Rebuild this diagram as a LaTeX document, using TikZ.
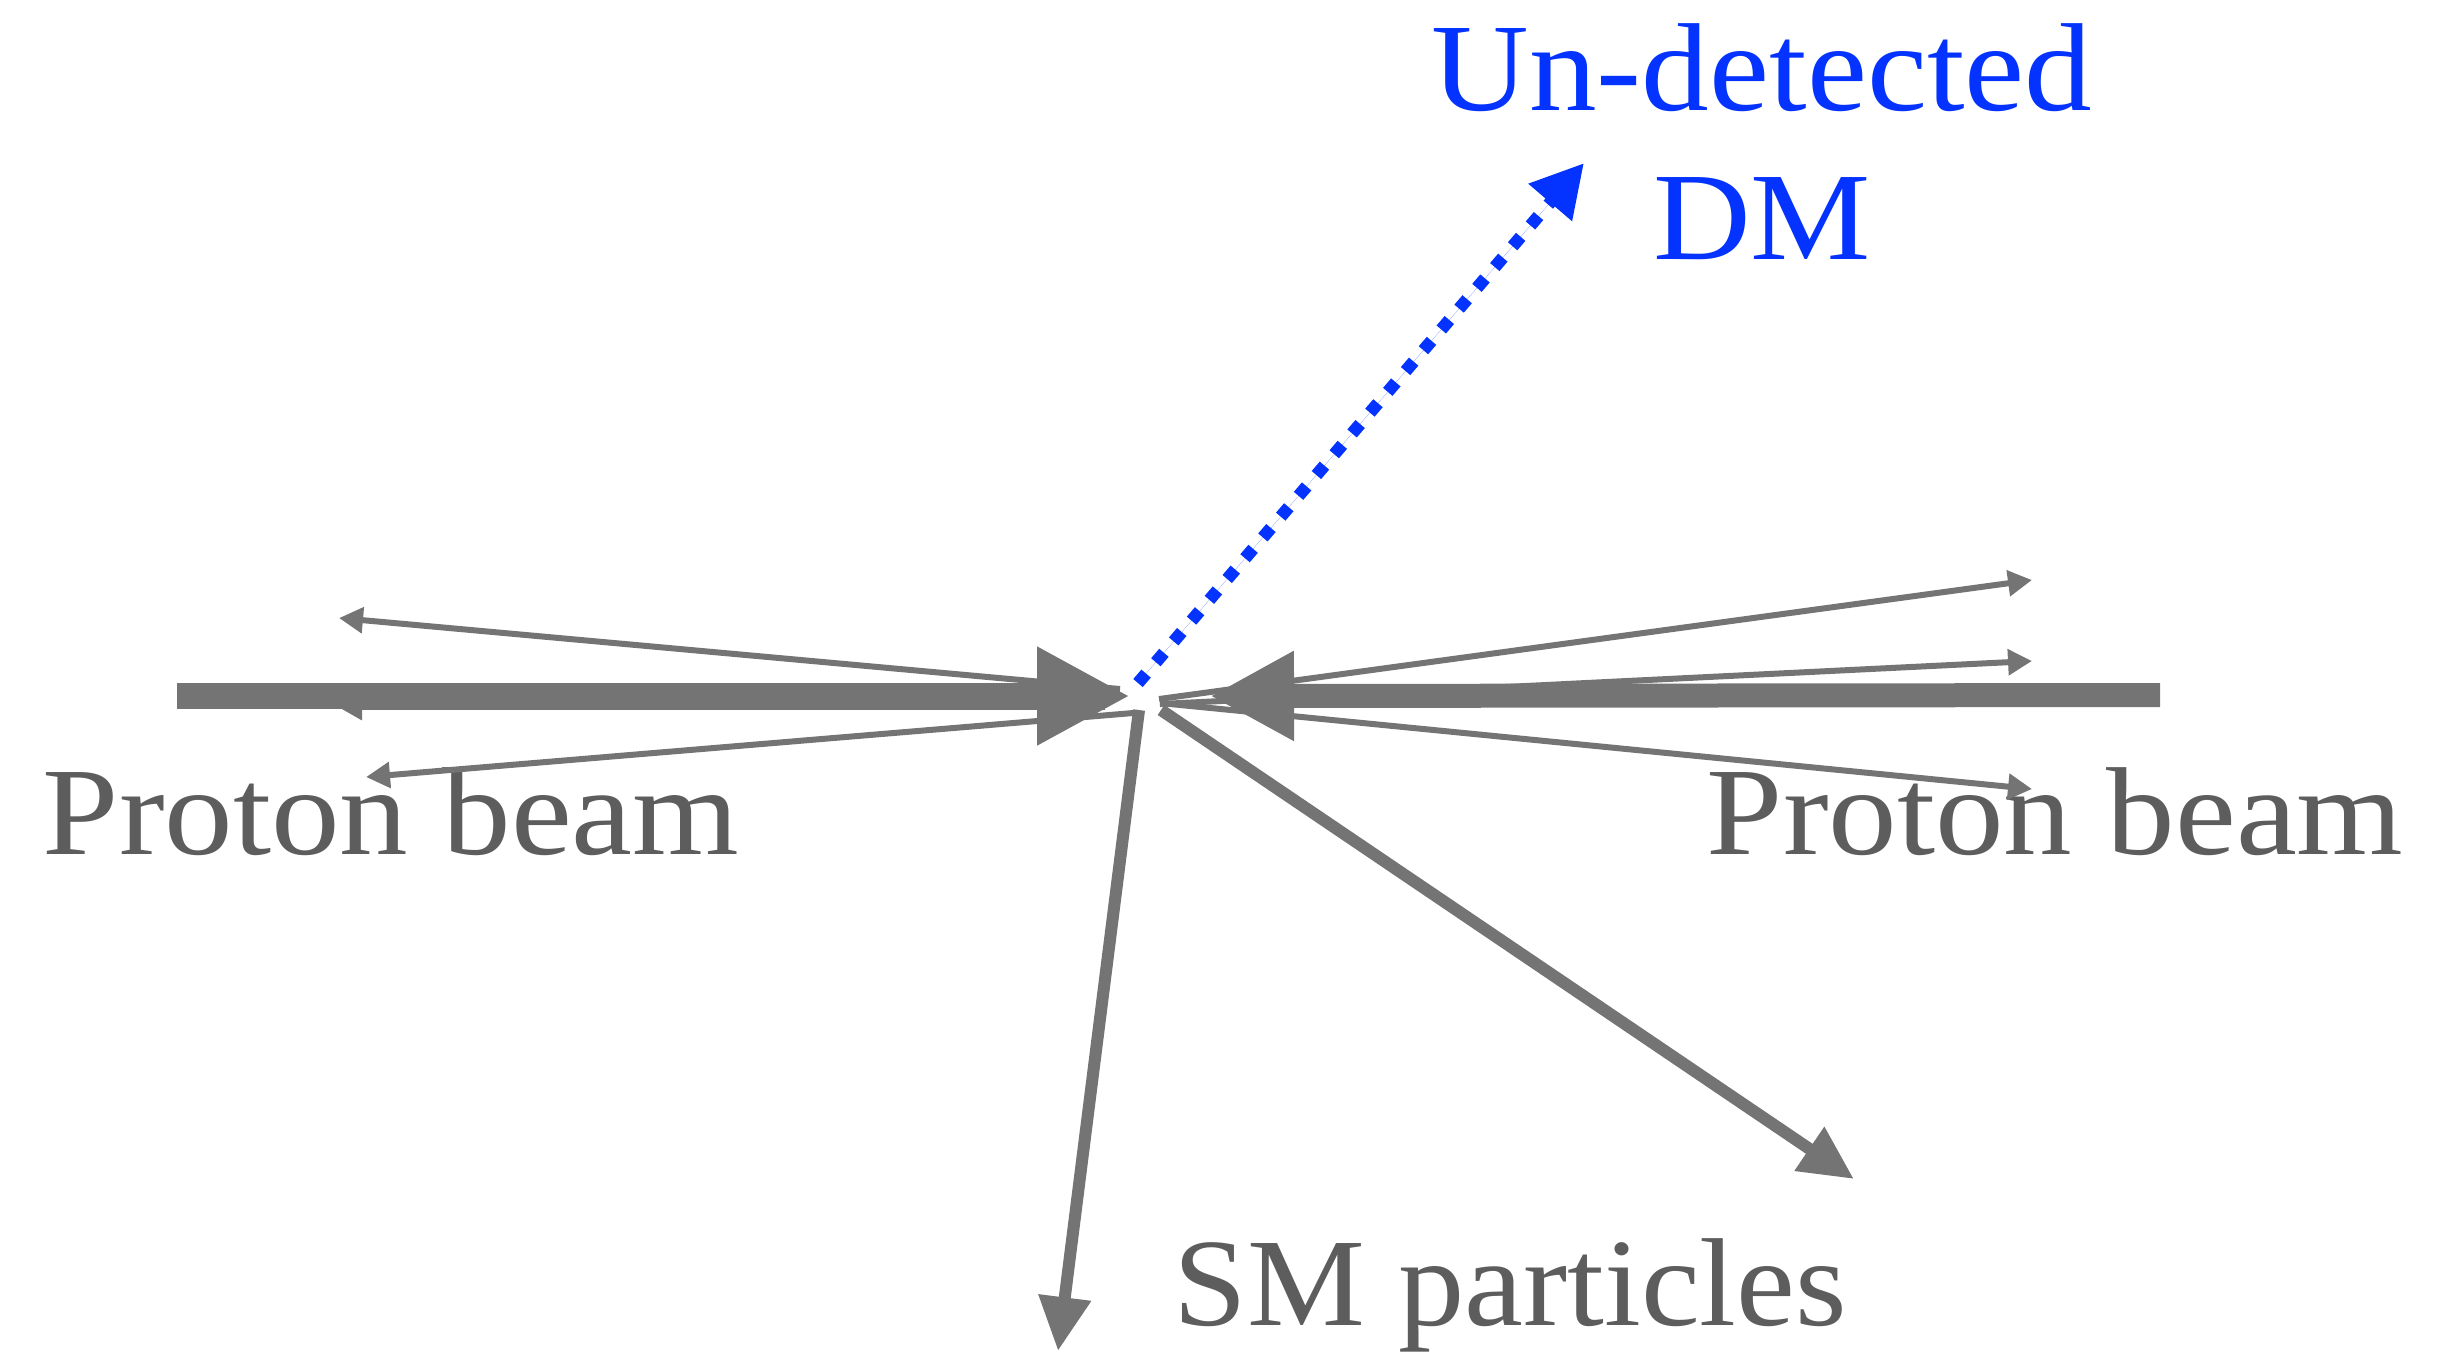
\documentclass[tikz,border=0pt]{standalone}
\usepackage{fontspec}
\setmainfont[FakeStretch=1.08]{Liberation Serif}
\newfontfamily\pbfont[FakeStretch=1.095]{Liberation Serif}
\newfontfamily\smfont[FakeStretch=1.058]{Liberation Serif}
\usetikzlibrary{arrows.meta}
\definecolor{lgray}{RGB}{115,116,115}
\definecolor{tgray}{RGB}{93,93,93}
\definecolor{dmblue}{RGB}{4,51,255}
\begin{document}
\begin{tikzpicture}[x=0.25pt,y=-0.25pt,
  lab/.style={inner sep=0pt,font=\fontsize{31.3pt}{37pt}\selectfont},
  thin/.style={draw=lgray,line width=1.5pt,-{Triangle[length=6pt,width=6.25pt]},fill=lgray},
  smarrow/.style={draw=lgray,line width=3pt,-{Triangle[length=13.5pt,width=12.5pt]},fill=lgray},
  lbeam/.style={draw=lgray,line width=6.5pt,-{Triangle[length=23.25pt,width=23pt]},fill=lgray},
  rbeam/.style={draw=lgray,line width=6pt,-{Triangle[length=21pt,width=21pt]},fill=lgray},
  dmarrow/.style={draw=dmblue,line width=3.1pt,dash pattern=on 3.1pt off 3.75pt,-{Triangle[length=13pt,width=13.5pt]},fill=dmblue}]
\useasboundingbox (0,0) rectangle (2458,1354);
% labels
\node[lab,text=tgray,anchor=base west,font=\fontsize{31.3pt}{37pt}\pbfont] (pl) at (42,854) {Proton beam};
\node[lab,text=tgray,anchor=base west,font=\fontsize{31.3pt}{37pt}\pbfont] (pr) at (1706,854) {Proton beam};
\node[lab,text=tgray,anchor=base west,font=\fontsize{31.3pt}{37pt}\smfont] (sm) at (1173,1325) {SM particles};
\node[lab,text=dmblue,anchor=base] (ud) at (1762,110) {Un-detected};
\node[lab,text=dmblue,anchor=base] (dm) at (1762,259) {DM};
% coordinates
\coordinate (ulS) at (1120,689); \coordinate (ulT) at (339,618);
\coordinate (mlS) at (1105,707); \coordinate (mlT) at (338,707);
\coordinate (llS) at (1133,713); \coordinate (llT) at (366,777);
\coordinate (urS) at (1159,699); \coordinate (urT) at (2032,580);
\coordinate (mrS) at (1160,704); \coordinate (mrT) at (2032,661);
\coordinate (lrS) at (1160,703); \coordinate (lrT) at (2032,789);
\coordinate (lbS) at (177,696);  \coordinate (lbT) at (1130,696);
\coordinate (rbS) at (2160,695); \coordinate (rbT) at (1210,696);
\coordinate (dS) at (1139,710);  \coordinate (dT) at (1058,1351);
\coordinate (drS) at (1161,710); \coordinate (drT) at (1854,1179);
\coordinate (dmS) at (1138,683); \coordinate (dmT) at (1584,163);
% left side
\draw[thin] (ulS) -- (ulT);
\draw[thin] (mlS) -- (mlT);
\draw[thin] (llS) -- (llT);
\draw[lbeam] (lbS) -- (lbT);
% right side
\draw[rbeam] (rbS) -- (rbT);
\draw[thin] (urS) -- (urT);
\draw[thin] (mrS) -- (mrT);
\draw[thin] (lrS) -- (lrT);
% SM particles
\draw[smarrow] (dS) -- (dT);
\draw[smarrow] (drS) -- (drT);
% dark matter
\draw[dmarrow] (dmS) -- (dmT);
\end{tikzpicture}
\end{document}
